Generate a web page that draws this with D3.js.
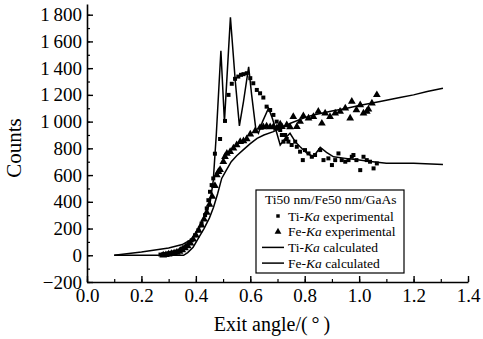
<!DOCTYPE html>
<html><head><meta charset="utf-8">
<script src="https://cdn.jsdelivr.net/npm/d3@7"></script>
<style>
body{margin:0;background:#fff;}
svg{display:block;}
text{font-family:"Liberation Serif","Times New Roman",serif;fill:#000;}
</style></head>
<body><svg id="c" width="483" height="339"></svg>
<script>
// Data
const xTicks = [0,0.2,0.4,0.6,0.8,1.0,1.2,1.4];
const yTicks = [-200,0,200,400,600,800,1000,1200,1400,1600,1800];
const legendTitle = "Ti50 nm/Fe50 nm/GaAs";

const tiExpAngle = [0.27,0.28,0.29,0.30,0.31,0.32,0.33,0.34,0.348,0.357,0.367,0.376,0.385,0.397,0.409,0.421,0.434,0.44,0.446,0.452,0.458,0.464,0.47,0.489,0.507,0.52,0.532,0.544,0.556,0.566,0.575,0.587,0.6,0.611,0.624,0.636,0.648,0.66,0.673,0.685,0.697,0.703,0.71,0.716,0.722,0.728,0.734,0.74,0.752,0.765,0.771,0.783,0.793,0.801,0.814,0.826,0.838,0.857,0.869,0.887,0.9,0.912,0.924,0.936,0.949,0.961,0.973,0.979,0.99,1.004,1.016,1.028,1.04,1.053,1.065];
const tiExpCounts = [5,8,10,15,18,22,28,35,50,60,75,95,112,150,187,237,300,350,412,475,525,575,760,870,1005,1200,1283,1320,1337,1350,1355,1362,1325,1287,1237,1212,1180,1112,1087,1050,1000,960,937,900,850,900,870,850,825,850,812,775,712,787,762,737,750,787,712,725,675,712,762,712,700,712,737,750,712,637,737,712,700,650,687];

const feExpAngle = [0.28,0.29,0.30,0.31,0.32,0.33,0.34,0.35,0.36,0.37,0.38,0.39,0.40,0.41,0.42,0.43,0.44,0.45,0.46,0.47,0.477,0.483,0.489,0.501,0.507,0.514,0.526,0.538,0.55,0.563,0.575,0.587,0.6,0.618,0.636,0.648,0.66,0.673,0.685,0.697,0.71,0.716,0.734,0.746,0.758,0.771,0.783,0.795,0.814,0.832,0.85,0.863,0.875,0.893,0.912,0.93,0.949,0.967,0.973,0.99,1.004,1.016,1.028,1.034,1.047,1.065];
const feExpCounts = [0,3,8,12,16,20,28,40,55,70,90,120,150,185,225,270,320,380,440,520,600,625,640,700,737,762,775,800,825,850,855,870,905,930,955,960,965,960,962,950,980,962,975,960,1037,962,1000,1042,1025,1037,1075,987,1062,1037,1062,1075,1100,1025,1150,1087,1125,1062,1075,1092,1137,1200];

const tiCalcAngle = [0.1,0.2,0.3,0.35,0.38,0.40,0.415,0.43,0.452,0.464,0.475,0.492,0.505,0.527,0.545,0.56,0.575,0.594,0.605,0.62,0.63,0.645,0.667,0.68,0.691,0.71,0.73,0.746,0.765,0.783,0.81,0.832,0.857,0.88,0.906,0.95,1.0,1.05,1.1,1.2,1.308];
const tiCalcCounts = [0,25,55,80,115,160,212,290,387,560,900,1530,1000,1780,1300,968,1150,1410,1200,950,913,1000,1100,1030,960,825,880,913,850,812,760,737,808,770,737,725,712,700,688,688,680];

const feCalcAngle = [0.1,0.355,0.37,0.39,0.41,0.43,0.45,0.465,0.48,0.495,0.51,0.53,0.55,0.575,0.6,0.625,0.65,0.685,0.71,0.75,0.8,0.832,0.9,0.955,1.0,1.077,1.15,1.2,1.25,1.308];
const feCalcCounts = [0,0,20,60,130,200,280,360,460,575,630,700,745,790,835,875,900,925,950,990,1030,1050,1080,1100,1120,1150,1180,1200,1225,1250];

const svg = d3.select("#c");
const x = d3.scaleLinear().domain([0,1.4]).range([87,468]);
const y = d3.scaleLinear().domain([-200,1880]).range([282,4]);

const fmtY = d => d < 0 ? "\u2212" + Math.abs(d) : (d >= 1000 ? Math.floor(d/1000) + "\u2009" + String(d%1000).padStart(3,"0") : String(d));

// minor ticks
svg.append("g").attr("transform","translate(0,282)")
  .call(d3.axisBottom(x).tickValues(d3.range(0,1.41,0.1)).tickSize(-3).tickFormat(""))
  .call(g=>g.select(".domain").remove())
  .call(g=>g.selectAll("line").attr("stroke","#000").attr("stroke-width",1.2));
svg.append("g").attr("transform","translate(87,0)")
  .call(d3.axisLeft(y).tickValues(d3.range(-200,1801,100)).tickSize(-3).tickFormat(""))
  .call(g=>g.select(".domain").remove())
  .call(g=>g.selectAll("line").attr("stroke","#000").attr("stroke-width",1.2));

// major axes
const xa = svg.append("g").attr("transform","translate(0,282)")
  .call(d3.axisBottom(x).tickValues(xTicks).tickSize(-6).tickSizeOuter(0).tickPadding(10).tickFormat(d3.format(".1f")));
xa.select(".domain").attr("stroke","#000").attr("stroke-width",1.6);
xa.selectAll("line").attr("stroke","#000").attr("stroke-width",1.4);
xa.selectAll("text").attr("font-size",19).attr("dy","0.9em").attr("y",3);

const ya = svg.append("g").attr("transform","translate(87,0)")
  .call(d3.axisLeft(y).tickValues(yTicks).tickSize(-6).tickSizeOuter(0).tickPadding(5).tickFormat(fmtY));
ya.select(".domain").attr("stroke","#000").attr("stroke-width",1.6);
ya.selectAll("line").attr("stroke","#000").attr("stroke-width",1.4);
ya.selectAll("text").attr("font-size",19).attr("x",-5);

// axis titles
svg.append("text").attr("x",272).attr("y",331).attr("text-anchor","middle").attr("font-size",20).text("Exit angle/(\u2009\u00B0\u2009)");
svg.append("text").attr("transform","translate(21,148) rotate(-90)").attr("text-anchor","middle").attr("font-size",21).text("Counts");

// lines
const line = d3.line().x(d=>x(d[0])).y(d=>y(d[1]));
svg.append("path").datum(d3.zip(feCalcAngle,feCalcCounts)).attr("d",line).attr("fill","none").attr("stroke","#000").attr("stroke-width",1.5);
svg.append("path").datum(d3.zip(tiCalcAngle,tiCalcCounts)).attr("d",line).attr("fill","none").attr("stroke","#000").attr("stroke-width",1.5);

// markers
const sq = d3.symbol().type(d3.symbolSquare).size(16);
const tri = d3.symbol().type(d3.symbolTriangle).size(26);
svg.append("g").selectAll("path").data(d3.zip(tiExpAngle,tiExpCounts)).join("path")
  .attr("d",sq).attr("transform",d=>`translate(${x(d[0])},${y(d[1])})`).attr("fill","#000");
svg.append("g").selectAll("path").data(d3.zip(feExpAngle,feExpCounts)).join("path")
  .attr("d",tri).attr("transform",d=>`translate(${x(d[0])},${y(d[1])})`).attr("fill","#000");

// legend
const lg = svg.append("g");
lg.append("rect").attr("x",256).attr("y",190).attr("width",148).attr("height",83).attr("fill","#fff").attr("stroke","#000").attr("stroke-width",1.2);
lg.append("text").attr("x",265).attr("y",204).attr("font-size",13.5).text(legendTitle);
const rows = [
  {el:"Ti",kind:"exp",sym:"sq"},
  {el:"Fe",kind:"exp",sym:"tri"},
  {el:"Ti",kind:"calc"},
  {el:"Fe",kind:"calc"}
];
rows.forEach((r,i)=>{
  const cy = 216 + i*15.7;
  if (r.kind==="exp") {
    lg.append("path").attr("d", r.sym==="sq" ? d3.symbol().type(d3.symbolSquare).size(12)() : d3.symbol().type(d3.symbolTriangle).size(20)())
      .attr("transform",`translate(278,${cy})`).attr("fill","#000");
  } else {
    lg.append("line").attr("x1",262).attr("x2",284).attr("y1",cy).attr("y2",cy).attr("stroke","#000").attr("stroke-width",1.5);
  }
  const t = lg.append("text").attr("x",288).attr("y",cy+4.5).attr("font-size",13.5);
  t.append("tspan").text(r.el+"-");
  t.append("tspan").attr("font-style","italic").text("Ka");
  t.append("tspan").text(r.kind==="exp" ? " experimental" : " calculated");
});
</script></body></html>
